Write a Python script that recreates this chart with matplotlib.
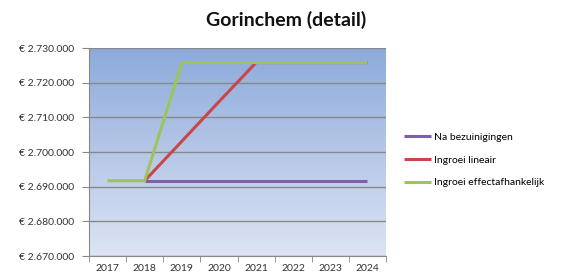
import numpy as np
import matplotlib
matplotlib.use("Agg")
from matplotlib import pyplot as plt
from matplotlib.colors import LinearSegmentedColormap
from matplotlib.ticker import FuncFormatter, FixedLocator

plt.rcParams['font.family'] = ['Lato', 'DejaVu Sans']

years = ["2017", "2018", "2019", "2020", "2021", "2022", "2023", "2024"]
na_bezuinigingen = [np.nan, 2691700, 2691700, 2691700, 2691700, 2691700, 2691700, 2691700]
ingroei_lineair = [np.nan, 2691700, 2703100, 2714500, 2725800, 2725800, 2725800, 2725800]
ingroei_effect = [2691700, 2691700, 2725800, 2725800, 2725800, 2725800, 2725800, 2725800]

series_names = ["Na bezuinigingen", "Ingroei lineair", "Ingroei effectafhankelijk"]
series_colors = ["#7E60A8", "#C9474A", "#9BC45A"]

fig = plt.figure(figsize=(5.66, 2.78), dpi=100)
ax = fig.add_axes([89 / 566, 1 - 256 / 278, 297 / 566, 208 / 278])

# gradient background of the plot area
grad = LinearSegmentedColormap.from_list("bg", ["#DDE4F3", "#8DAADB"])
ax.imshow(np.linspace(0, 1, 256).reshape(-1, 1), cmap=grad, origin="lower",
          extent=[0, 1, 0, 1], transform=ax.transAxes, aspect="auto", zorder=0)

x = np.arange(len(years))
for vals, name, col in zip([na_bezuinigingen, ingroei_lineair, ingroei_effect], series_names, series_colors):
    ax.plot(x, vals, color=col, lw=2.2, label=name, zorder=3, solid_capstyle="butt")

ax.set_xlim(-0.5, len(years) - 0.5)
ax.set_ylim(2670000, 2730000)
ax.set_yticks(np.arange(2670000, 2730001, 10000))
ax.yaxis.set_major_formatter(FuncFormatter(lambda v, p: "€ " + f"{int(v):,}".replace(",", ".")))
ax.yaxis.grid(True, color="#888888", lw=1.0, zorder=1)
ax.set_axisbelow(False)

ax.set_xticks(x)
ax.set_xticklabels(years)
ax.xaxis.set_minor_locator(FixedLocator(np.arange(-0.5, len(years), 1)))
ax.tick_params(axis="x", which="major", length=0, pad=6, labelsize=7.5, colors="#333333")
ax.tick_params(axis="x", which="minor", length=4, color="#888888", direction="out")
ax.tick_params(axis="y", length=5, color="#888888", labelsize=7.5, colors="#333333", pad=6)

for s in ["top", "right"]:
    ax.spines[s].set_visible(False)
for s in ["left", "bottom"]:
    ax.spines[s].set_color("#888888")

fig.text(0.505, 0.93, "Gorinchem (detail)", ha="center", va="center",
         fontsize=14, fontweight="bold", color="#111111")

fig.legend(loc="center left", bbox_to_anchor=(395 / 566, 1 - 160 / 278), frameon=False,
           fontsize=7.5, handlelength=2.6, handletextpad=0.2, labelspacing=1.3)

fig.savefig("out.png", dpi=100)
